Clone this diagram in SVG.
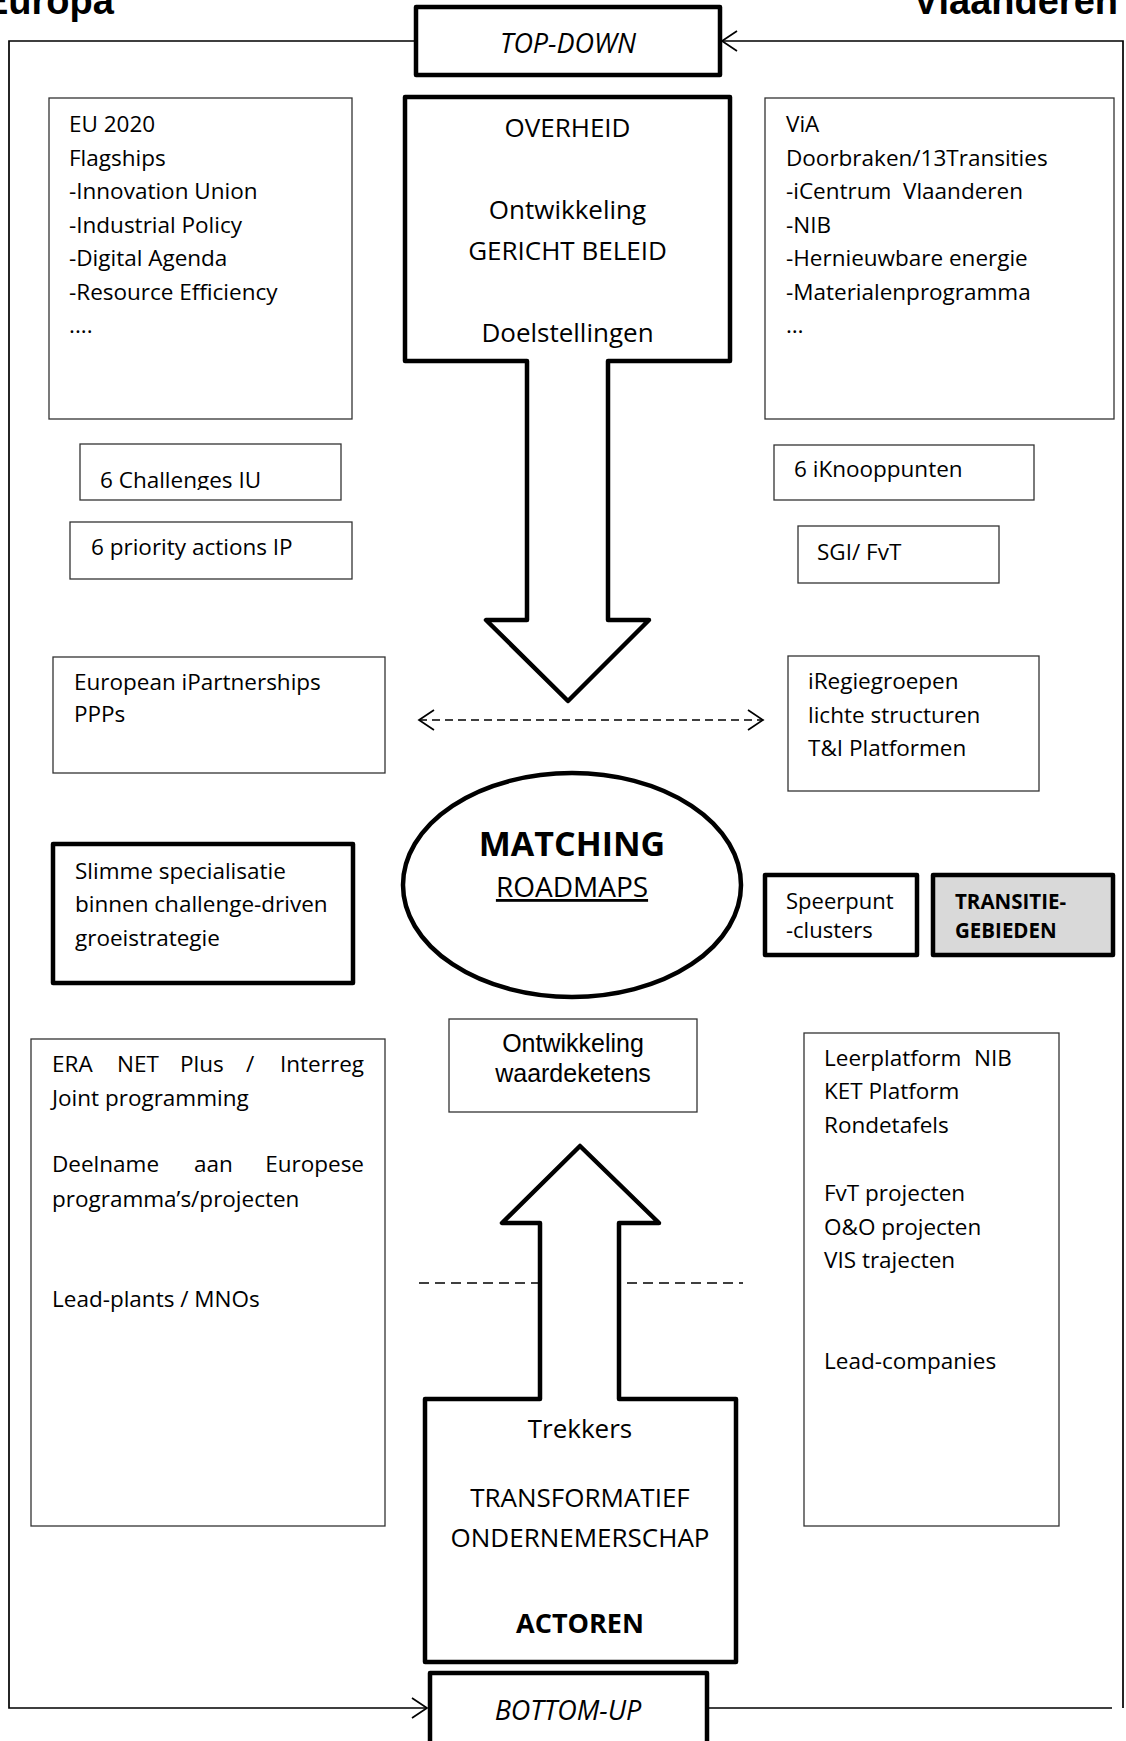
<svg xmlns="http://www.w3.org/2000/svg" width="1126" height="1741" viewBox="0 0 1126 1741">
<style>
.t{font-family:"Open Sans","Noto Sans",sans-serif;font-size:22.5px;fill:#000}
.c{text-anchor:middle}
.big{font-size:26px}
.b{font-weight:bold}
.it{font-style:italic;font-size:27px}
.ar{font-family:"Liberation Sans",Arial,sans-serif;font-size:25px;fill:#000;text-anchor:middle}
.title{font-family:"Liberation Sans",Arial,sans-serif;font-weight:bold;font-size:38px;fill:#000}
.box{fill:#fff;stroke:#333;stroke-width:1.3}
.thick{fill:#fff;stroke:#000;stroke-width:4.5;stroke-linejoin:round}
.conn{fill:none;stroke:#000;stroke-width:1.7}
.dash{fill:none;stroke:#000;stroke-width:1.6;stroke-dasharray:8 5}
.dash2{fill:none;stroke:#000;stroke-width:1.6;stroke-dasharray:10 6}
</style>
<defs>
<marker id="open" markerUnits="userSpaceOnUse" viewBox="0 0 18 22" refX="16" refY="11" markerWidth="18" markerHeight="22" orient="auto-start-reverse">
<path d="M1,1 L16,11 L1,21" fill="none" stroke="#000" stroke-width="1.7"/>
</marker>
<clipPath id="clipC"><rect x="80" y="444" width="261" height="46"/></clipPath>
</defs>
<rect x="0" y="0" width="1126" height="1741" fill="#fff"/>

<g id="titles">
<text class="title" x="-17" y="14">Europa</text>
<text class="title" x="1118" y="14" text-anchor="end">Vlaanderen</text>
</g>

<g id="connectors">
<path class="conn" d="M416,41 H9 V1708 H427" marker-end="url(#open)"/>
<path class="conn" d="M1123,1708 V41 H722" marker-end="url(#open)"/>
<path class="conn" d="M707,1708 H1112"/>
<line class="dash" x1="419" y1="720" x2="763" y2="720" marker-start="url(#open)" marker-end="url(#open)"/>
<line class="dash2" x1="419" y1="1283" x2="743" y2="1283"/>
</g>

<g id="top-down">
<rect class="thick" x="416" y="7" width="304" height="68"/>
<text class="t it c" x="568" y="53">TOP-DOWN</text>
</g>

<g id="overheid">
<path class="thick" d="M405,97 H730 V361 H608 V620 H649 L568,701 L486,620 H527 V361 H405 Z"/>
<text class="t big c" x="567.5" y="137">OVERHEID</text>
<text class="t big c" x="567.5" y="219">Ontwikkeling</text>
<text class="t big c" x="567.5" y="260">GERICHT BELEID</text>
<text class="t big c" x="567.5" y="342">Doelstellingen</text>
</g>

<g id="eu2020">
<rect class="box" x="49" y="98" width="303" height="321"/>
<text class="t" x="69" y="132">EU 2020</text>
<text class="t" x="69" y="166">Flagships</text>
<text class="t" x="69" y="199">-Innovation Union</text>
<text class="t" x="69" y="233">-Industrial Policy</text>
<text class="t" x="69" y="266">-Digital Agenda</text>
<text class="t" x="69" y="300">-Resource Efficiency</text>
<text class="t" x="69" y="333">....</text>
</g>

<g id="via">
<rect class="box" x="765" y="98" width="349" height="321"/>
<text class="t" x="786" y="132">ViA</text>
<text class="t" x="786" y="166">Doorbraken/13Transities</text>
<text class="t" x="786" y="199">-iCentrum<tspan x="903">Vlaanderen</tspan></text>
<text class="t" x="786" y="233">-NIB</text>
<text class="t" x="786" y="266">-Hernieuwbare energie</text>
<text class="t" x="786" y="300">-Materialenprogramma</text>
<text class="t" x="786" y="333">…</text>
</g>

<g id="challenges">
<rect class="box" x="80" y="444" width="261" height="56"/>
<text class="t" x="100" y="488" clip-path="url(#clipC)">6 Challenges IU</text>
</g>

<g id="priority">
<rect class="box" x="70" y="522" width="282" height="57"/>
<text class="t" x="91" y="555">6 priority actions IP</text>
</g>

<g id="knooppunten">
<rect class="box" x="774" y="445" width="260" height="55"/>
<text class="t" x="794" y="477">6 iKnooppunten</text>
</g>

<g id="sgi">
<rect class="box" x="798" y="526" width="201" height="57"/>
<text class="t" x="817" y="560">SGI/ FvT</text>
</g>

<g id="partnerships">
<rect class="box" x="53" y="657" width="332" height="116"/>
<text class="t" x="74" y="690">European iPartnerships</text>
<text class="t" x="74" y="722">PPPs</text>
</g>

<g id="regiegroepen">
<rect class="box" x="788" y="656" width="251" height="135"/>
<text class="t" x="808" y="689">iRegiegroepen</text>
<text class="t" x="808" y="723">lichte structuren</text>
<text class="t" x="808" y="756">T&amp;I Platformen</text>
</g>

<g id="matching">
<ellipse cx="572" cy="885" rx="169" ry="112" fill="#fff" stroke="#000" stroke-width="4.5"/>
<text class="t b c" x="572" y="856" style="font-size:34px">MATCHING</text>
<text class="t c" x="572" y="897" style="font-size:28px" text-decoration="underline">ROADMAPS</text>
</g>

<g id="slimme">
<rect class="thick" x="53" y="844" width="300" height="139"/>
<text class="t" x="75" y="879">Slimme specialisatie</text>
<text class="t" x="75" y="912">binnen challenge-driven</text>
<text class="t" x="75" y="946">groeistrategie</text>
</g>

<g id="speerpunt">
<rect class="thick" x="765" y="875" width="152" height="80"/>
<text class="t" x="786" y="909" style="font-size:22px">Speerpunt</text>
<text class="t" x="786" y="938" style="font-size:22px">-clusters</text>
</g>

<g id="transitie">
<rect class="thick" x="933" y="875" width="180" height="80" style="fill:#d9d9d9"/>
<text class="t b" x="955" y="909" style="font-size:20.5px">TRANSITIE-</text>
<text class="t b" x="955" y="938" style="font-size:20.5px">GEBIEDEN</text>
</g>

<g id="waardeketens">
<rect class="box" x="449" y="1019" width="248" height="93"/>
<text class="ar" x="573" y="1052">Ontwikkeling</text>
<text class="ar" x="573" y="1082">waardeketens</text>
</g>

<g id="era">
<rect class="box" x="31" y="1039" width="354" height="487"/>
<text class="t" y="1072"><tspan x="52">ERA</tspan><tspan x="117">NET</tspan><tspan x="180">Plus</tspan><tspan x="246">/</tspan><tspan x="364" text-anchor="end">Interreg</tspan></text>
<text class="t" x="52" y="1106">Joint programming</text>
<text class="t" y="1172"><tspan x="52">Deelname</tspan><tspan x="194">aan</tspan><tspan x="364" text-anchor="end">Europese</tspan></text>
<text class="t" x="52" y="1207">programma’s/projecten</text>
<text class="t" x="52" y="1307">Lead-plants / MNOs</text>
</g>

<g id="leerplatform">
<rect class="box" x="804" y="1033" width="255" height="493"/>
<text class="t" x="824" y="1066">Leerplatform<tspan x="974">NIB</tspan></text>
<text class="t" x="824" y="1099">KET Platform</text>
<text class="t" x="824" y="1133">Rondetafels</text>
<text class="t" x="824" y="1201">FvT projecten</text>
<text class="t" x="824" y="1235">O&amp;O projecten</text>
<text class="t" x="824" y="1268">VIS trajecten</text>
<text class="t" x="824" y="1369">Lead-companies</text>
</g>

<g id="actoren">
<path class="thick" d="M425,1662 H736 V1399 H619 V1223 H659 L580,1146 L502,1223 H540 V1399 H425 Z"/>
<text class="t big c" x="580" y="1438">Trekkers</text>
<text class="t big c" x="580" y="1507">TRANSFORMATIEF</text>
<text class="t big c" x="580" y="1547">ONDERNEMERSCHAP</text>
<text class="t big c b" x="580" y="1633" style="font-size:27px">ACTOREN</text>
</g>

<g id="bottom-up">
<rect class="thick" x="430" y="1673" width="277" height="80"/>
<text class="t it c" x="568" y="1720">BOTTOM-UP</text>
</g>
</svg>
